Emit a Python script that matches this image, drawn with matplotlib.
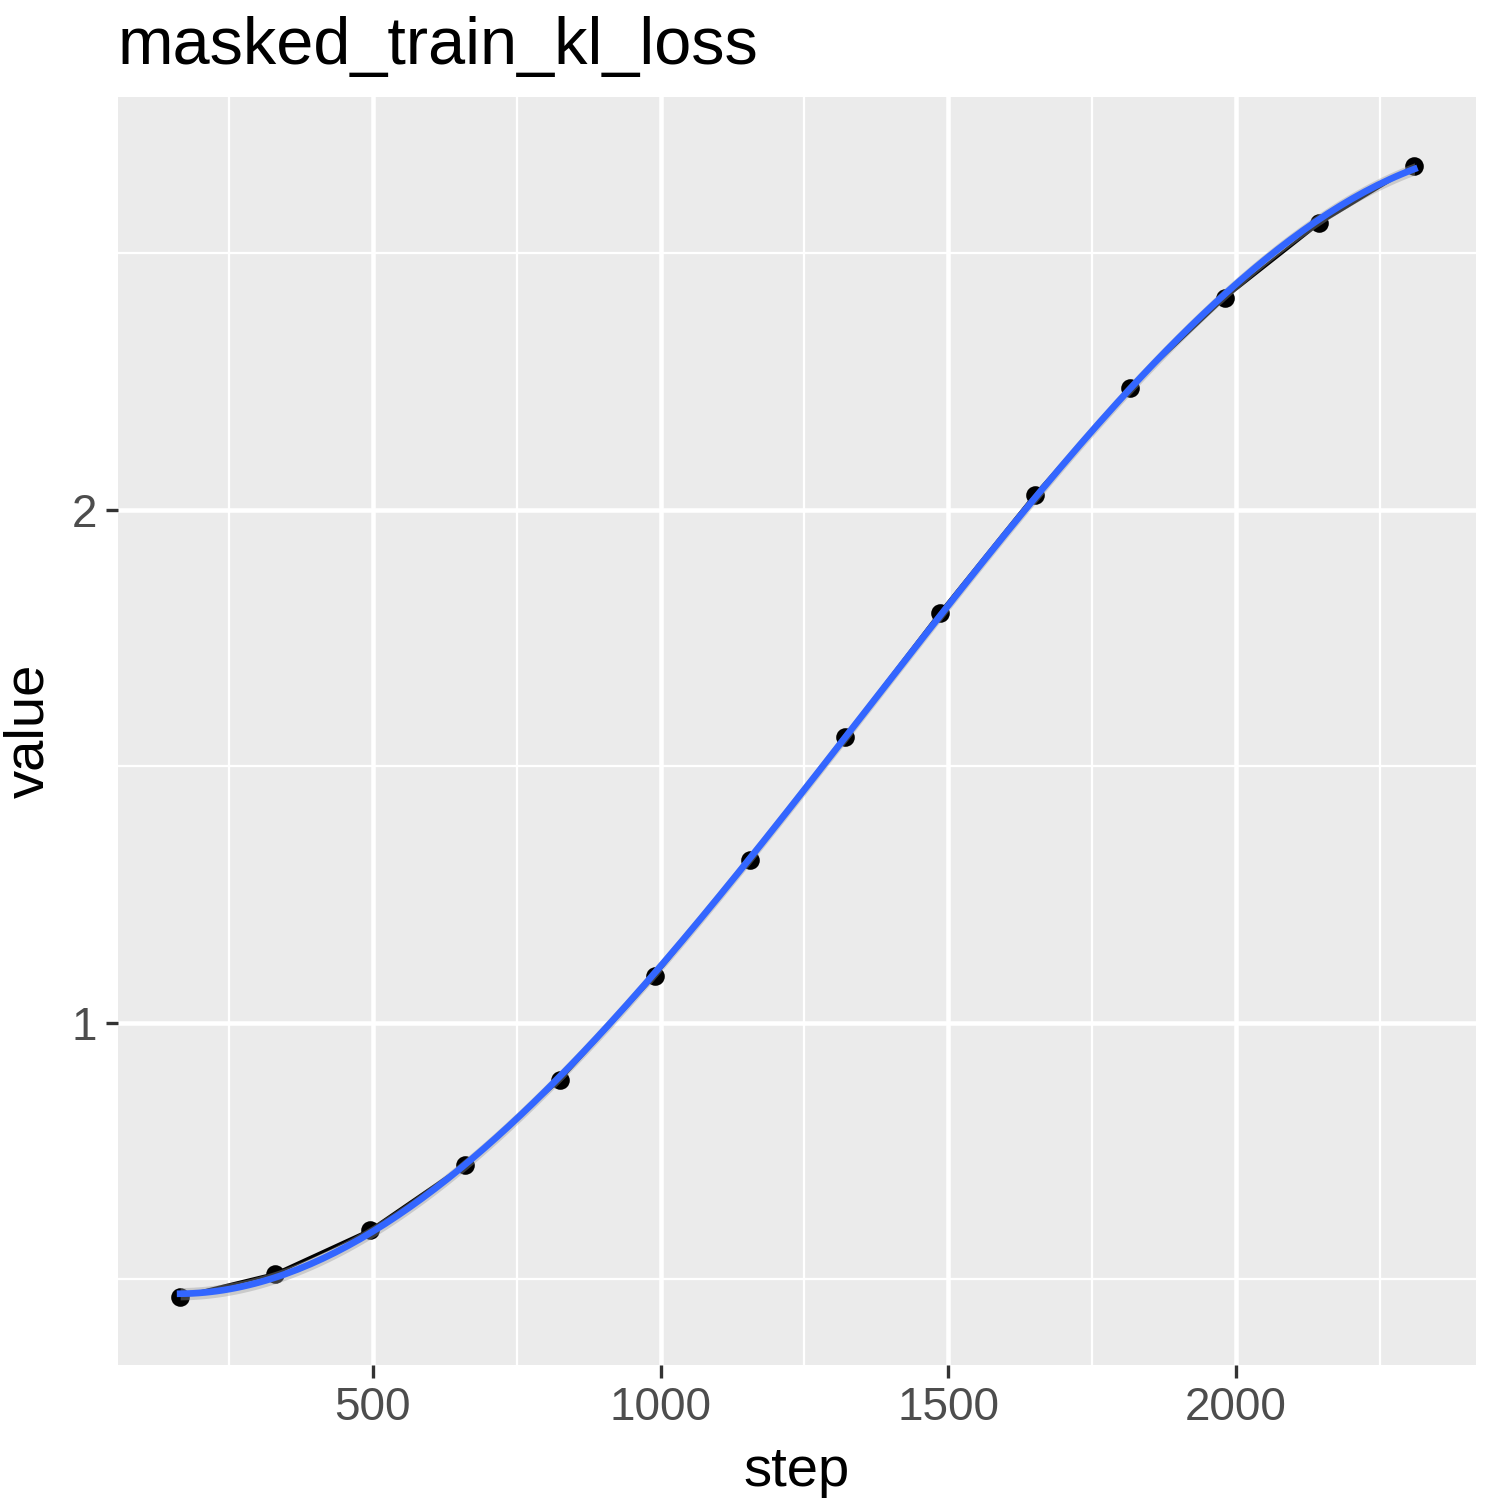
import numpy as np
import matplotlib
matplotlib.use("Agg")
import matplotlib.pyplot as plt

plt.rcParams['font.family'] = ['Liberation Sans', 'DejaVu Sans']

step = [165, 330, 495, 660, 825, 990, 1155, 1320, 1485, 1650, 1815, 1980, 2145, 2310]
value = [0.466, 0.511, 0.596, 0.723, 0.889, 1.092, 1.318, 1.557, 1.799, 2.029,
         2.238, 2.413, 2.559, 2.671]

fig = plt.figure(figsize=(5, 5), dpi=300)
ax = fig.add_axes([118/1500, 1 - 1365/1500, (1476-118)/1500, (1365-97)/1500])
ax.set_facecolor('#EBEBEB')
for s in ax.spines.values():
    s.set_visible(False)

ax.set_xlim(57, 2417)
ax.set_ylim(0.333, 2.805)
ax.set_xticks([500, 1000, 1500, 2000])
ax.set_yticks([1, 2])
ax.set_xticks([250, 750, 1250, 1750, 2250], minor=True)
ax.set_yticks([0.5, 1.5, 2.5], minor=True)
ax.grid(which='major', color='white', lw=1.1)
ax.grid(which='minor', color='white', lw=0.55)
ax.set_axisbelow(True)
ax.tick_params(which='major', length=3, width=0.8, color='#333333', labelsize=11,
               labelcolor='#4D4D4D', pad=2)
ax.tick_params(which='minor', length=0)

x = np.array(step, float)
y = np.array(value)
ax.plot(x, y, color='black', lw=0.8, zorder=2)
ax.scatter(x, y, s=12, color='black', zorder=3)

# smooth fit with a thin ribbon
c = np.polyfit(x, y, 4)
xs = np.linspace(x.min(), x.max(), 200)
ys = np.polyval(c, xs)
ax.fill_between(xs, ys - 0.012, ys + 0.012, color='#999999', alpha=0.4, lw=0, zorder=3)
ax.plot(xs, ys, color='#3366FF', lw=1.6, zorder=4)

ax.set_xlabel('step', fontsize=13.5, labelpad=4)
ax.set_ylabel('value', fontsize=13.5, labelpad=4)
ax.set_title('masked_train_kl_loss', fontsize=16, loc='left', pad=8)

fig.savefig('out.png', dpi=300)
